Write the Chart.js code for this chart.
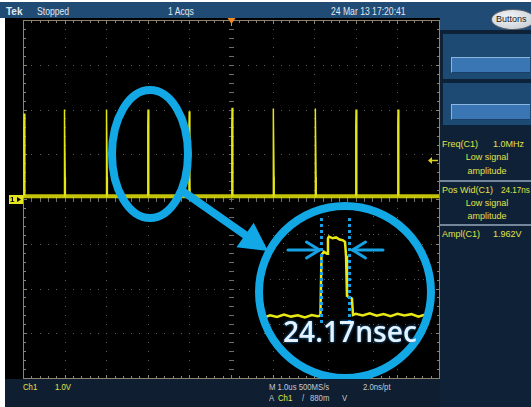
<!DOCTYPE html>
<html>
<head>
<meta charset="utf-8">
<script src="https://cdn.jsdelivr.net/npm/chart.js@4.4.1/dist/chart.umd.min.js"></script>
<style>
  html, body { margin:0; padding:0; background:#fff; }
  #scope { position:relative; width:531px; height:407px; overflow:hidden; background:#fff;
           font-family:"Liberation Sans", Arial, sans-serif; }
  .blk { position:absolute; }
  .t { position:absolute; white-space:nowrap; font-size:9px; line-height:10px; }
  .cond { transform:scaleX(0.86); transform-origin:0 50%; }
  .narrow { transform:scaleX(0.9); transform-origin:0 50%; }
  .top { color:#e2e9f0; font-size:10px; }
  .yel { color:#e2e24a; }
  .gry { color:#c4cad2; }
  .ctr { transform:translateX(-50%); }
  .box { position:absolute; left:443px; width:88px; background:#1d4a73;
         border-top:2px solid #0c2238; border-bottom:2px solid #0c2238; box-sizing:border-box; }
  .field { position:absolute; left:8px; width:79px; height:16px; background:#3a76b3;
           border-top:1px solid #8ab6e0; border-left:1px solid #8ab6e0;
           border-bottom:1px solid #1b3f66; box-sizing:border-box; }
  .sep { position:absolute; left:440px; width:91px; height:2px; background:#74869a; }
  #btn { position:absolute; left:491px; top:9px; width:44px; height:21px; border-radius:50%;
         background:radial-gradient(ellipse at 40% 35%, #f2f4f6 0%, #cfd5dc 70%, #a9b1ba 100%);
         border:1px solid #59616b; box-sizing:border-box; font-size:9px; line-height:19px;
         color:#1a1a1a; padding-left:4px; }
</style>
</head>
<body>
<div id="scope">
  <!-- frame panels -->
  <div class="blk" style="left:0;top:2px;width:531px;height:16px;background:#1f4b74"></div>
  <div class="blk" style="left:440px;top:18px;width:91px;height:12px;background:#1f4b74"></div>
  <div class="blk" style="left:440px;top:30px;width:91px;height:377px;background:#0e2136"></div>
  <div class="blk" style="left:5px;top:379px;width:435px;height:28px;background:#0f1f31"></div>
  <div class="blk" style="left:5px;top:18px;width:435px;height:361px;background:#000"></div>

  <!-- status line -->
  <span class="t top" style="left:6px;top:7px;font-weight:bold">Tek</span>
  <span class="t top cond" style="left:37px;top:7px">Stopped</span>
  <span class="t top cond" style="left:168px;top:7px">1 Acqs</span>
  <span class="t top cond" style="left:331px;top:7px">24 Mar 13 17:20:41</span>
  <div id="btn"><span>Buttons</span></div>

  <!-- side menu -->
  <div class="box" style="top:32px;height:49px"><div class="field" style="top:23px"></div></div>
  <div class="box" style="top:81px;height:46px"><div class="field" style="top:21px"></div></div>

  <span class="t yel" style="left:442px;top:139px">Freq(C1)</span>
  <span class="t yel" style="left:493px;top:139px">1.0MHz</span>
  <span class="t yel ctr" style="left:487px;top:152px">Low signal</span>
  <span class="t yel ctr" style="left:487px;top:166px">amplitude</span>
  <div class="sep" style="top:180px"></div>
  <span class="t yel" style="left:442px;top:185px">Pos Wid(C1)</span>
  <span class="t yel narrow" style="left:501px;top:185px">24.17ns</span>
  <span class="t yel ctr" style="left:487px;top:198px">Low signal</span>
  <span class="t yel ctr" style="left:487px;top:211px">amplitude</span>
  <div class="sep" style="top:224px"></div>
  <span class="t yel" style="left:442px;top:229px">Ampl(C1)</span>
  <span class="t yel" style="left:493px;top:229px">1.962V</span>

  <!-- readout line -->
  <span class="t yel cond" style="left:23px;top:382px">Ch1</span>
  <span class="t yel cond" style="left:55px;top:382px">1.0V</span>
  <span class="t gry cond" style="left:269px;top:382px">M 1.0us 500MS/s</span>
  <span class="t gry cond" style="left:363px;top:382px">2.0ns/pt</span>
  <span class="t gry cond" style="left:269px;top:393px">A</span>
  <span class="t yel cond" style="left:278px;top:393px">Ch1</span>
  <span class="t gry cond" style="left:302px;top:393px">/</span>
  <span class="t gry cond" style="left:310px;top:393px">880m</span>
  <span class="t gry cond" style="left:342px;top:393px">V</span>

  <canvas id="main" width="436" height="361" style="position:absolute;left:5px;top:18px"></canvas>
  <div class="blk" style="left:250px;top:196px;width:190px;height:183px;overflow:hidden">
    <canvas id="zoom" width="190" height="190" style="position:absolute;left:0;top:0"></canvas>
  </div>
</div>

<script>
// ---- acquisition: Ch1, 1.0 V/div, 1.0 us/div ----
const spikeTimesUs = [0.02, 0.99, 2.0, 3.0, 3.99, 5.02, 6.01, 7.02, 8.0, 9.01];
const spikePeaksV  = [1.91, 2.00, 2.00, 2.00, 1.96, 2.04, 2.02, 2.02, 2.00, 2.00];
const baselineV = 0.06;
const triggerTimeUs = 5.0;
const triggerLevelV = 0.88;

// ---- magnified single pulse (ns, V) ----
const pulseWidthNs = 24.17;
const zoomTimeNs = [-64, -56, -50, -44, -38, -32, -26, -20, -14, -8, -3, -0.5, 0.4, 2.5, 5.2, 6.0,
                    6.9, 10, 13, 16, 19, 20.7, 21.6, 22.4, 24.5, 26.7, 27.6, 30, 36, 42, 48, 54,
                    60, 66, 72, 78, 84, 90, 96, 104];
const zoomVolts  = [0.00, 0.05, -0.02, 0.04, 0.00, 0.06, 0.01, 0.04, -0.01, 0.05, 0.02, 0.03, 1.52, 1.60, 1.55, 1.93,
                    1.97, 1.93, 1.95, 1.90, 1.88, 1.84, 1.50, 0.52, 0.48, 0.45, 0.05, 0.08, 0.04, 0.09, 0.03, 0.07,
                    0.02, 0.08, 0.04, 0.07, 0.01, 0.06, 0.03, 0.05];
const zoomLabel = '24.17nsec';

const TRACE = '#e6e614';
const CYAN = '#12a7e5';

// each spike follows the measured pulse shape: rise to a shoulder, top, fall to a shoulder
const riseShoulder = zoomVolts[13] / zoomVolts[16];
const fallShoulder = zoomVolts[24] / zoomVolts[16];
const spikeData = [];
spikeTimesUs.forEach((t, i) => {
  const p = spikePeaksV[i];
  spikeData.push(
    {x: t, y: baselineV},
    {x: t, y: p * riseShoulder},
    {x: t + 0.006, y: p},
    {x: t + 0.018, y: p * 0.94},
    {x: t + pulseWidthNs / 1000, y: p * fallShoulder},
    {x: t + 0.028, y: baselineV},
    {x: t + 0.03, y: null}
  );
});

// graticule: 10 x 8 divisions, dotted lines, ticked centre cross and frame
const graticule = {
  id: 'graticule',
  beforeDatasetsDraw(chart) {
    const {ctx, chartArea: a, scales: {x, y}} = chart;
    ctx.save();
    ctx.fillStyle = '#5c5c5c';
    for (let i = 1; i < 10; i++) {
      if (i === 5) continue;
      const px = Math.round(x.getPixelForValue(i));
      for (let k = 1; k < 40; k++) {
        ctx.fillRect(px, Math.round(y.getPixelForValue(-4 + k * 0.2)), 1, 1);
      }
    }
    for (let j = -3; j <= 3; j++) {
      if (j === 0) continue;
      const py = Math.round(y.getPixelForValue(j));
      for (let k = 1; k < 50; k++) {
        ctx.fillRect(Math.round(x.getPixelForValue(k * 0.2)), py, 1, 1);
      }
    }
    // centre cross with minor ticks
    ctx.fillStyle = '#6e6e6e';
    const cx = Math.round(x.getPixelForValue(5));
    const cy = Math.round(y.getPixelForValue(0));
    for (let k = 1; k < 40; k++) {
      const py = Math.round(y.getPixelForValue(-4 + k * 0.2));
      ctx.fillRect(cx - 2, py, 5, 1);
    }
    for (let k = 1; k < 50; k++) {
      const px = Math.round(x.getPixelForValue(k * 0.2));
      ctx.fillRect(px, cy - 2, 1, 5);
    }
    // frame with inward ticks
    ctx.strokeStyle = '#8a8470';
    ctx.lineWidth = 1;
    ctx.strokeRect(Math.round(a.left) + 0.5, Math.round(a.top) + 0.5,
                   Math.round(a.right - a.left), Math.round(a.bottom - a.top));
    ctx.fillStyle = '#8a8470';
    for (let k = 1; k < 50; k++) {
      const px = Math.round(x.getPixelForValue(k * 0.2));
      const len = (k % 5 === 0) ? 4 : 3;
      ctx.fillRect(px, Math.round(a.top), 1, len);
      ctx.fillRect(px, Math.round(a.bottom) - len + 1, 1, len);
    }
    for (let k = 1; k < 40; k++) {
      const py = Math.round(y.getPixelForValue(-4 + k * 0.2));
      const len = (k % 5 === 0) ? 4 : 3;
      ctx.fillRect(Math.round(a.left), py, len, 1);
      ctx.fillRect(Math.round(a.right) - len + 1, py, len, 1);
    }
    ctx.restore();
  }
};

// markers (ground, trigger) and the magnifier callout
const markers = {
  id: 'markers',
  afterDraw(chart) {
    const {ctx, chartArea: a, scales: {x, y}} = chart;
    ctx.save();
    // channel ground marker
    const gy = Math.round(y.getPixelForValue(0));
    ctx.fillStyle = '#e4e420';
    ctx.fillRect(4, gy - 4, 14, 9);
    ctx.fillStyle = '#000';
    ctx.font = 'bold 8px "Liberation Sans", Arial, sans-serif';
    ctx.textBaseline = 'middle';
    ctx.fillText('1', 5, gy + 1);
    ctx.beginPath();
    ctx.moveTo(12, gy - 2); ctx.lineTo(16, gy + 0.5); ctx.lineTo(12, gy + 3); ctx.closePath();
    ctx.fill();
    // trigger position
    const tx = Math.round(x.getPixelForValue(triggerTimeUs)) + 0.5;
    ctx.fillStyle = '#f28a1e';
    ctx.beginPath();
    ctx.moveTo(tx - 4, 0); ctx.lineTo(tx + 4, 0); ctx.lineTo(tx, 6); ctx.closePath();
    ctx.fill();
    ctx.fillRect(tx - 0.5, 4, 1, 4);
    // trigger level
    const ty = Math.round(y.getPixelForValue(triggerLevelV)) + 0.5;
    ctx.strokeStyle = '#d8d020';
    ctx.fillStyle = '#d8d020';
    ctx.lineWidth = 1.5;
    ctx.beginPath(); ctx.moveTo(a.right - 9, ty); ctx.lineTo(a.right - 1, ty); ctx.stroke();
    ctx.beginPath();
    ctx.moveTo(a.right - 11, ty); ctx.lineTo(a.right - 7, ty - 3.5); ctx.lineTo(a.right - 7, ty + 3.5);
    ctx.closePath(); ctx.fill();

    // magnifier loop around one spike
    ctx.strokeStyle = CYAN;
    ctx.fillStyle = CYAN;
    ctx.lineWidth = 8;
    ctx.beginPath();
    ctx.ellipse(145, 136, 38, 64, 0, 0, Math.PI * 2);
    ctx.stroke();
    // pointer toward the zoomed view
    const sx = 176, sy = 172, ex = 263, ey = 233;
    const ang = Math.atan2(ey - sy, ex - sx);
    const hl = 28, hw = 15;
    const bx = ex - hl * Math.cos(ang), by = ey - hl * Math.sin(ang);
    ctx.beginPath(); ctx.moveTo(sx, sy); ctx.lineTo(bx + 2 * Math.cos(ang), by + 2 * Math.sin(ang)); ctx.stroke();
    ctx.beginPath();
    ctx.moveTo(ex, ey);
    ctx.lineTo(bx + hw * Math.sin(ang), by - hw * Math.cos(ang));
    ctx.lineTo(bx - hw * Math.sin(ang), by + hw * Math.cos(ang));
    ctx.closePath(); ctx.fill();
    ctx.restore();
  }
};

new Chart(document.getElementById('main'), {
  type: 'line',
  data: {
    datasets: [
      { data: [{x: 0, y: baselineV}, {x: 10, y: baselineV}],
        borderColor: 'rgba(222,222,10,0.88)', borderWidth: 4, pointRadius: 0 },
      { data: spikeData, borderColor: TRACE, borderWidth: 1.5, pointRadius: 0, spanGaps: false }
    ]
  },
  options: {
    responsive: false, animation: false, events: [],
    layout: { padding: { left: 18, top: 2, right: 2, bottom: 1 } },
    scales: {
      x: { type: 'linear', min: 0, max: 10, display: false },
      y: { type: 'linear', min: -4, max: 4, display: false }
    },
    plugins: { legend: { display: false }, tooltip: { enabled: false } }
  },
  plugins: [graticule, markers]
});

// ---- zoomed pulse inside the circular lens ----
const LENS = { cx: 95, cy: 96, r: 82 };
const lens = {
  id: 'lens',
  beforeDatasetsDraw(chart) {
    const {ctx} = chart;
    ctx.save();
    ctx.beginPath();
    ctx.arc(LENS.cx, LENS.cy, LENS.r + 1, 0, Math.PI * 2);
    ctx.fillStyle = '#000';
    ctx.fill();
    ctx.clip();
    ctx.fillStyle = '#5a5a5a';
    [33, 78, 123, 168].forEach(px => { for (let py = 2; py < 190; py += 9) ctx.fillRect(px, py, 1, 1); });
    [38, 83, 128].forEach(py => { for (let px = 2; px < 190; px += 9) ctx.fillRect(px, py, 1, 1); });
  },
  afterDatasetsDraw(chart) {
    chart.ctx.restore();
  },
  afterDraw(chart) {
    const {ctx, scales: {x}} = chart;
    ctx.save();
    // lens ring
    ctx.strokeStyle = CYAN;
    ctx.lineWidth = 8;
    ctx.beginPath();
    ctx.arc(LENS.cx, LENS.cy, LENS.r + 4, 0, Math.PI * 2);
    ctx.stroke();
    // width cursors
    const x1 = Math.round(x.getPixelForValue(0)) + 0.5;
    const x2 = Math.round(x.getPixelForValue(pulseWidthNs)) + 0.5;
    ctx.strokeStyle = '#1b9fe6';
    ctx.lineWidth = 3;
    ctx.setLineDash([3, 3]);
    [x1, x2].forEach(px => { ctx.beginPath(); ctx.moveTo(px, 22); ctx.lineTo(px, 127); ctx.stroke(); });
    ctx.setLineDash([]);
    // inward arrows
    const ay = 54;
    ctx.strokeStyle = '#17a2e4';
    ctx.lineWidth = 3;
    ctx.lineCap = 'round';
    const arrow = (from, to) => {
      const d = Math.sign(to - from);
      ctx.beginPath(); ctx.moveTo(from, ay); ctx.lineTo(to, ay); ctx.stroke();
      ctx.beginPath();
      ctx.moveTo(to - d * 13, ay - 8); ctx.lineTo(to, ay); ctx.lineTo(to - d * 13, ay + 8);
      ctx.stroke();
    };
    arrow(38, x1 - 2);
    arrow(133, x2 + 3);
    // measured width
    ctx.font = '600 28px "Open Sans", "Noto Sans", sans-serif';
    const w = ctx.measureText(zoomLabel).width;
    ctx.translate(33, 146);
    ctx.scale(134 / w, 1);
    ctx.shadowColor = 'rgba(40,150,230,0.9)';
    ctx.shadowBlur = 3;
    ctx.fillStyle = '#e4f3ff';
    ctx.textBaseline = 'alphabetic';
    ctx.fillText(zoomLabel, 0, 0);
    ctx.restore();
  }
};

new Chart(document.getElementById('zoom'), {
  type: 'line',
  data: {
    datasets: [{
      data: zoomTimeNs.map((t, i) => ({x: t, y: zoomVolts[i]})),
      borderColor: '#e8e812', borderWidth: 2.5, pointRadius: 0
    }]
  },
  options: {
    responsive: false, animation: false, events: [],
    layout: { padding: 0 },
    scales: {
      x: { type: 'linear', min: -61.3, max: 102.7, display: false },
      y: { type: 'linear', min: -1.691, max: 2.966, display: false }
    },
    plugins: { legend: { display: false }, tooltip: { enabled: false } }
  },
  plugins: [lens]
});
</script>
</body>
</html>
